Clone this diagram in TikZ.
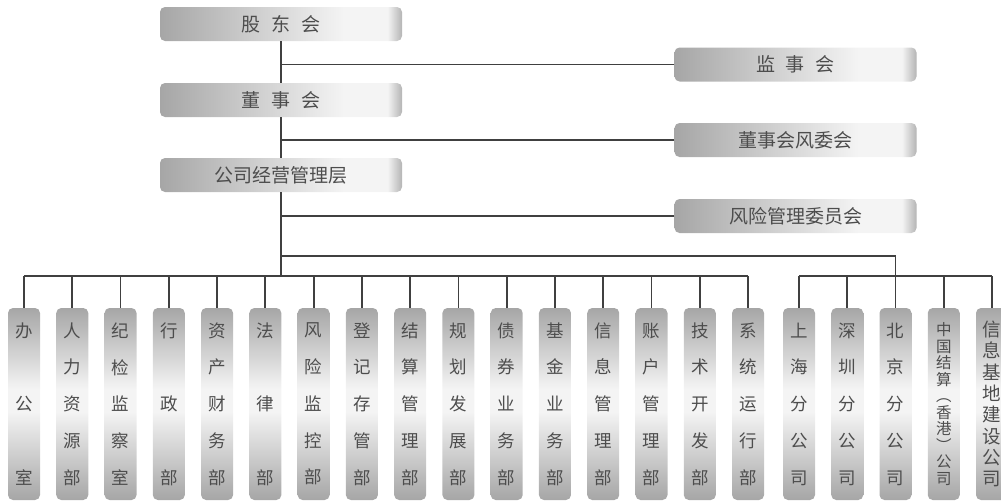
\documentclass[tikz,border=0pt]{standalone}
\usepackage{fontspec}
\newfontfamily\cjk{Noto Sans CJK SC}
\definecolor{lightc}{HTML}{F4F4F4}
\definecolor{darkc}{HTML}{A6A6A6}
\definecolor{edgec}{HTML}{B4B4B4}
\definecolor{linec}{HTML}{404040}
\definecolor{txtc}{HTML}{4D4D4D}
\pgfdeclarehorizontalshading{hgrad}{100bp}{color(0bp)=(darkc); color(25bp)=(darkc); color(63bp)=(lightc); color(72bp)=(lightc); color(75bp)=(edgec); color(100bp)=(edgec)}
\pgfdeclareverticalshading{vgrad}{100bp}{color(0bp)=(darkc); color(25bp)=(darkc); color(48bp)=(lightc); color(54bp)=(lightc); color(75bp)=(darkc); color(100bp)=(darkc)}
\tikzset{
  hbox/.style={rectangle, rounded corners=5pt, shading=hgrad, minimum width=242pt, minimum height=34pt, inner sep=0pt, text=txtc, font=\cjk\fontsize{19}{21}\selectfont},
  dept/.style={rectangle, rounded corners=5pt, shading=vgrad, minimum width=32pt, minimum height=192pt, inner sep=0pt, align=center, text=txtc, font=\cjk\fontsize{17.5}{#1}\selectfont},
  conn/.style={draw=linec, line width=1.8pt},
}
\newcommand{\gap}{\hspace{11pt}}
\begin{document}
\begin{tikzpicture}[x=1pt,y=-1pt]
\useasboundingbox (0,0) rectangle (1001,501);
% top column
\node[hbox] (gd) at (281,24) {股\gap 东\gap 会};
\node[hbox] (dsh) at (281,100) {董\gap 事\gap 会};
\node[hbox] (gl) at (281,175) {公司经营管理层};
% right boxes
\node[hbox] (jsh) at (795.5,64.5) {监\gap 事\gap 会};
\node[hbox] (fwh) at (795.5,140) {董事会风委会};
\node[hbox] (fxh) at (795.5,216) {风险管理委员会};
% departments
\node[dept=73.5]  (d1)  at (24.00,404) {办\\公\\室};
\node[dept=36.75] (d2)  at (72.27,404) {人\\力\\资\\源\\部};
\node[dept=36.75] (d3)  at (120.54,404) {纪\\检\\监\\察\\室};
\node[dept=73.5]  (d4)  at (168.81,404) {行\\政\\部};
\node[dept=36.75] (d5)  at (217.08,404) {资\\产\\财\\务\\部};
\node[dept=73.5]  (d6)  at (265.35,404) {法\\律\\部};
\node[dept=36.75] (d7)  at (313.62,404) {风\\险\\监\\控\\部};
\node[dept=36.75] (d8)  at (361.89,404) {登\\记\\存\\管\\部};
\node[dept=36.75] (d9)  at (410.16,404) {结\\算\\管\\理\\部};
\node[dept=36.75] (d10) at (458.43,404) {规\\划\\发\\展\\部};
\node[dept=36.75] (d11) at (506.70,404) {债\\券\\业\\务\\部};
\node[dept=36.75] (d12) at (554.97,404) {基\\金\\业\\务\\部};
\node[dept=36.75] (d13) at (603.24,404) {信\\息\\管\\理\\部};
\node[dept=36.75] (d14) at (651.51,404) {账\\户\\管\\理\\部};
\node[dept=36.75] (d15) at (699.78,404) {技\\术\\开\\发\\部};
\node[dept=36.75] (d16) at (748.05,404) {系\\统\\运\\行\\部};
\node[dept=36.75] (b1) at (799.00,404) {上\\海\\分\\公\\司};
\node[dept=36.75] (b2) at (847.25,404) {深\\圳\\分\\公\\司};
\node[dept=36.75] (b3) at (895.50,404) {北\\京\\分\\公\\司};
\node[dept=16.5, font=\cjk\fontsize{15.5}{16.5}\selectfont] (b4) at (943.75,404) {中\\国\\结\\算\\︵\\香\\港\\︶\\公\\司};
\node[dept=21.3, font=\cjk\fontsize{18.5}{21.3}\selectfont] (b5) at (992.00,404) {信\\息\\基\\地\\建\\设\\公\\司};
% coordinates for bars
\coordinate (ubar) at (0,256);
\coordinate (lbar) at (0,276);
% main spine
\draw[conn] (gd.south) -- (dsh.north);
\draw[conn] (dsh.south) -- (gl.north);
\draw[conn] (gl.south) -- (gl.south |- lbar);
% side branches
\draw[conn] (jsh.west) -- (jsh.west -| gd.south);
\draw[conn] (fwh.west) -- (fwh.west -| gd.south);
\draw[conn] (fxh.west) -- (fxh.west -| gd.south);
% left bar
\draw[conn] (d1.north |- lbar) -- (d16.north |- lbar);
\foreach \n in {d1,d2,d3,d4,d5,d6,d7,d8,d9,d10,d11,d12,d13,d14,d15,d16}
  \draw[conn] (\n.north) -- (\n.north |- lbar);
% right group
\draw[conn] (gl.south |- ubar) -| (b3.north);
\draw[conn] (b1.north |- lbar) -- (b5.north |- lbar);
\foreach \n in {b1,b2,b4,b5}
  \draw[conn] (\n.north) -- (\n.north |- lbar);
\end{tikzpicture}
\end{document}
